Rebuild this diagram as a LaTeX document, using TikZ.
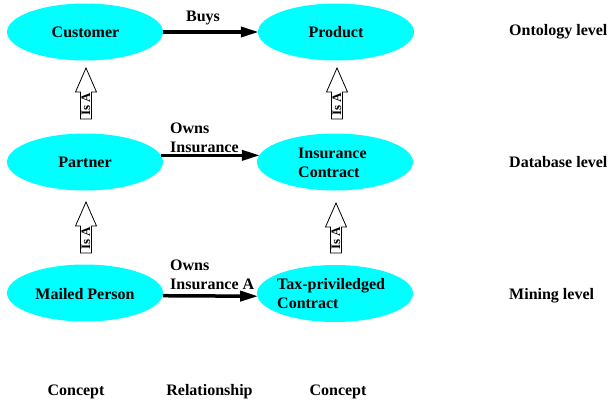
\documentclass[tikz,border=0pt]{standalone}
\usepackage{fontspec}
\setmainfont{Liberation Serif}
\usetikzlibrary{arrows.meta,shapes.geometric}
\definecolor{cy}{HTML}{00FFFF}
\tikzset{
  concept/.style={ellipse, fill=cy, draw=none, minimum width=156pt, minimum height=57pt, inner sep=0pt},
  lbl/.style={font=\fontsize{16}{19.5}\selectfont\bfseries, inner sep=0pt},
  rel/.style={line width=3.5pt, -{Triangle[length=18pt,width=10pt]}, shorten >=-1pt},
  isabox/.style={draw=black, fill=white, line width=0.8pt},
  isatext/.style={font=\fontsize{13}{13}\selectfont\bfseries, rotate=90, inner sep=0pt}
}
\newcommand\isaarrow[4]{% x, top y, bottom y, name
  \draw[isabox] (#1-5.5,#3) -- (#1+5.5,#3) -- (#1+5.5,#2+24) -- (#1+10.5,#2+24) -- (#1,#2) -- (#1-10.5,#2+24) -- (#1-5.5,#2+24) -- cycle;
  \node[isatext] (#4) at (#1,#3-15) {Is A};
}
\begin{document}
\begin{tikzpicture}[x=1pt,y=-1pt]
\useasboundingbox (0,0) rectangle (611,407);
% concepts
\node[concept] (cust) at (85,32) {};
\node[lbl] (custt) at (85.5,32) {Customer};
\node[concept] (prod) at (336,32) {};
\node[lbl] (prodt) at (336,32) {Product};
\node[concept] (part) at (85,162) {};
\node[lbl] (partt) at (85,162) {Partner};
\node[concept] (ins) at (335,162) {};
\node[lbl, anchor=west, align=left] (inst) at (298,163) {Insurance\\Contract};
\node[concept] (mail) at (85,293) {};
\node[lbl] (mailt) at (85,294) {Mailed Person};
\node[concept] (tax) at (335,293.5) {};
\node[lbl, anchor=west, align=left] (taxt) at (277,293.5) {Tax-priviledged\\Contract};
% relationships
\draw[rel] (cust.east) -- (prod.west);
\node[lbl] (buys) at (203,18) {Buys};
\draw[rel] (part.5) -- (ins.175);
\node[lbl, anchor=west, align=left] (owns1) at (170,138) {Owns\\Insurance};
\draw[rel] (mail.-2) -- (tax.182);
\node[lbl, anchor=west, align=left] (owns2) at (170,275) {Owns\\Insurance A};
% is-a arrows
\isaarrow{86}{68}{119}{isa1}
\isaarrow{337}{68}{119}{isa2}
\isaarrow{86}{202}{253}{isa3}
\isaarrow{336}{203}{253}{isa4}
% levels
\node[lbl, anchor=west] (ont) at (509,32) {Ontology level};
\node[lbl, anchor=west] (db) at (509,162) {Database level};
\node[lbl, anchor=west] (min) at (509,296) {Mining level};
% column headings
\node[lbl] (c1) at (76,392) {Concept};
\node[lbl] (c2) at (209.5,392) {Relationship};
\node[lbl] (c3) at (338,392) {Concept};
\end{tikzpicture}
\end{document}
